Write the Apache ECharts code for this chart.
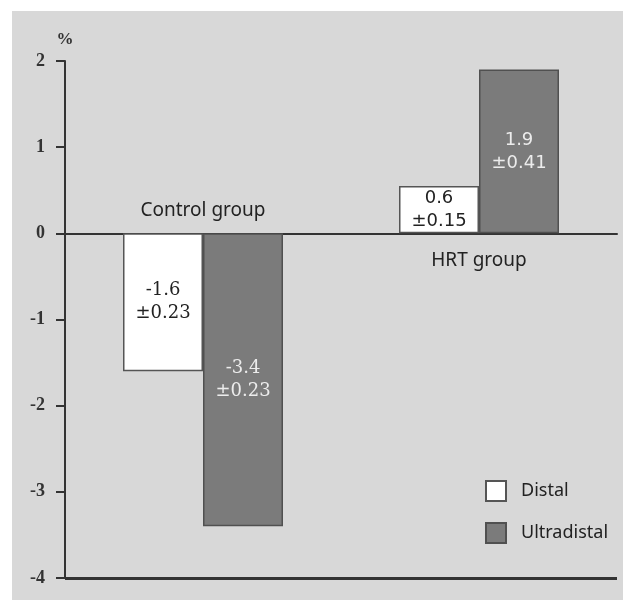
<!DOCTYPE html>
<html>
<head>
<meta charset="utf-8">
<script src="https://cdn.jsdelivr.net/npm/echarts@6/dist/echarts.min.js"></script>
<style>
html,body{margin:0;padding:0;background:#fff;}
#chart{width:623px;height:600px;}
</style>
</head>
<body>
<div id="chart"></div>
<script>
// ---- data ----
const categories = ['Control group', 'HRT group'];
const seriesNames = ['Distal', 'Ultradistal'];
const distalValues = [-1.6, 0.55];
const ultradistalValues = [-3.4, 1.9];
const distalMeanText = ['-1.6', '0.6'];
const distalSeText = ['±0.23', '±0.15'];
const ultradistalMeanText = ['-3.4', '1.9'];
const ultradistalSeText = ['±0.23', '±0.41'];
const yMin = -4, yMax = 2, yStep = 1;
const yUnit = '%';

// ---- styles ----
const labelFonts = ['DejaVu Serif', 'DejaVu Sans'];
const sansFont = 'Noto Sans';

function makeData(values, means, ses, color) {
  return values.map((v, i) => ({
    value: v,
    label: {
      formatter: means[i] + '\n' + ses[i],
      fontFamily: labelFonts[i],
      color: color
    }
  }));
}

const chart = echarts.init(document.getElementById('chart'), null, {renderer: 'canvas'});
const baseOption = {
  backgroundColor: '#ffffff',
  animation: false,
  grid: {left: 65, right: 6, top: 61, bottom: 22, containLabel: false, outerBoundsMode: 'none'},
  legend: {
    orient: 'vertical', left: 480, top: 475,
    itemWidth: 20, itemHeight: 20, itemGap: 20,
    icon: 'rect',
    data: seriesNames,
    textStyle: {fontFamily: sansFont, fontSize: 18, color: '#222', padding: [0, 0, 0, 10]}
  },
  xAxis: {
    type: 'category', data: categories,
    axisLine: {onZero: true, lineStyle: {color: '#333', width: 2}},
    axisTick: {show: false},
    axisLabel: {show: false}
  },
  yAxis: {
    type: 'value', min: yMin, max: yMax, interval: yStep,
    name: yUnit, nameLocation: 'end', nameGap: 13,
    nameTextStyle: {fontFamily: 'Liberation Serif', fontWeight: 'bold', fontSize: 17, color: '#333'},
    axisLine: {show: true, onZero: false, lineStyle: {color: '#333', width: 2}},
    axisTick: {show: true, inside: false, length: 9, lineStyle: {color: '#333', width: 2}},
    axisLabel: {margin: 20, fontFamily: 'Liberation Serif', fontWeight: 'bold', fontSize: 18, color: '#333'},
    splitLine: {show: false}
  },
  series: [{
    name: seriesNames[0], type: 'bar',
    barWidth: 80, barGap: '0%',
    itemStyle: {color: '#ffffff', borderColor: '#555', borderWidth: 1.5},
    label: {show: true, position: 'inside', fontSize: 18, lineHeight: 23},
    data: makeData(distalValues, distalMeanText, distalSeText, '#222'),
    markLine: {
      silent: true, symbol: ['none', 'none'], label: {show: false},
      lineStyle: {color: '#333', width: 3, type: 'solid'},
      data: [{yAxis: yMin}]
    }
  }, {
    name: seriesNames[1], type: 'bar',
    barWidth: 80, barGap: '0%',
    itemStyle: {color: '#7b7b7b', borderColor: '#505050', borderWidth: 1.5},
    label: {show: true, position: 'inside', fontSize: 18, lineHeight: 23},
    data: makeData(ultradistalValues, ultradistalMeanText, ultradistalSeText, '#ececec')
  }]
};
chart.setOption(baseOption);

// group labels: placed on the opposite side of the zero line from each group's bars
const groupTexts = categories.map((c, i) => {
  const p = chart.convertToPixel({xAxisIndex: 0, yAxisIndex: 0}, [c, 0]);
  const below = distalValues[i] > 0;
  return {
    type: 'text', silent: true,
    x: p[0], y: below ? p[1] + 18 : p[1] - 13,
    style: {
      text: c, fontFamily: sansFont, fontSize: 19, fill: '#222',
      align: 'center', verticalAlign: below ? 'top' : 'bottom'
    }
  };
});
chart.setOption({
  graphic: [{
    type: 'rect', z: -10, silent: true,
    shape: {x: 12, y: 11, width: 611, height: 589},
    style: {fill: '#d8d8d8'}
  }].concat(groupTexts)
});
</script>
</body>
</html>
